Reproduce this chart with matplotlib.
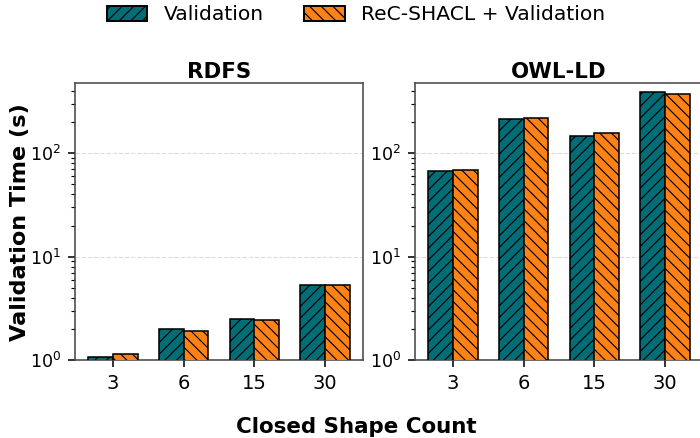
import matplotlib
matplotlib.use("Agg")
import matplotlib.pyplot as plt
import numpy as np
from matplotlib.patches import Patch

categories = ["3", "6", "15", "30"]
rdfs_validation = [1.08, 2.0, 2.5, 5.3]
rdfs_recshacl = [1.14, 1.92, 2.43, 5.3]
owl_validation = [67.5, 214, 146, 391]
owl_recshacl = [69, 219, 156, 378]
series_labels = ["Validation", "ReC-SHACL + Validation"]
titles = ["RDFS", "OWL-LD"]

teal = "#006d77"
orange = "#ff8216"
hatch1 = "////"
hatch2 = "\\\\\\\\"

DPI = 140
plt.rcParams['hatch.linewidth'] = 0.6
fig = plt.figure(figsize=(700 / DPI, 438 / DPI), dpi=DPI)
W, H = 700, 438
ax1 = fig.add_axes([75 / W, 78 / H, 288 / W, 276.7 / H])
ax2 = fig.add_axes([415 / W, 78 / H, 288 / W, 276.7 / H], sharey=ax1)

x = np.arange(len(categories))
w = 0.35
for ax, v1, v2, t in [(ax1, rdfs_validation, rdfs_recshacl, titles[0]),
                      (ax2, owl_validation, owl_recshacl, titles[1])]:
    ax.bar(x - w / 2, v1, w, color=teal, edgecolor="black", hatch=hatch1, linewidth=0.8, zorder=3)
    ax.bar(x + w / 2, v2, w, color=orange, edgecolor="black", hatch=hatch2, linewidth=0.8, zorder=3)
    ax.set_yscale("log")
    ax.set_xticks(x)
    ax.set_xticklabels(categories, fontsize=10)
    ax.tick_params(axis="y", labelsize=9, labelleft=True)
    ax.set_title(t, fontsize=11, fontweight="bold", pad=2.8)
    ax.grid(axis="y", which="major", linestyle="--", color="#dddddd", linewidth=0.6, zorder=0)
    for s in ax.spines.values():
        s.set_color("#444444")

ax1.set_ylim(1, 475)
ax1.set_ylabel("Validation Time (s)", fontsize=11.5, fontweight="bold", labelpad=0)
fig.text(356 / W, 1 - 427 / H, "Closed Shape Count", fontsize=11, fontweight="bold",
         ha="center", va="center")

handles = [Patch(facecolor=teal, edgecolor="black", hatch=hatch1, label=series_labels[0]),
           Patch(facecolor=orange, edgecolor="black", hatch=hatch2, label=series_labels[1])]
fig.legend(handles=handles, loc="center", bbox_to_anchor=(356 / W, 1 - 15 / H), ncol=2,
           frameon=False, fontsize=10.4, handlelength=2.0, handleheight=0.8, columnspacing=2.0)

fig.savefig("out.png", dpi=DPI)
